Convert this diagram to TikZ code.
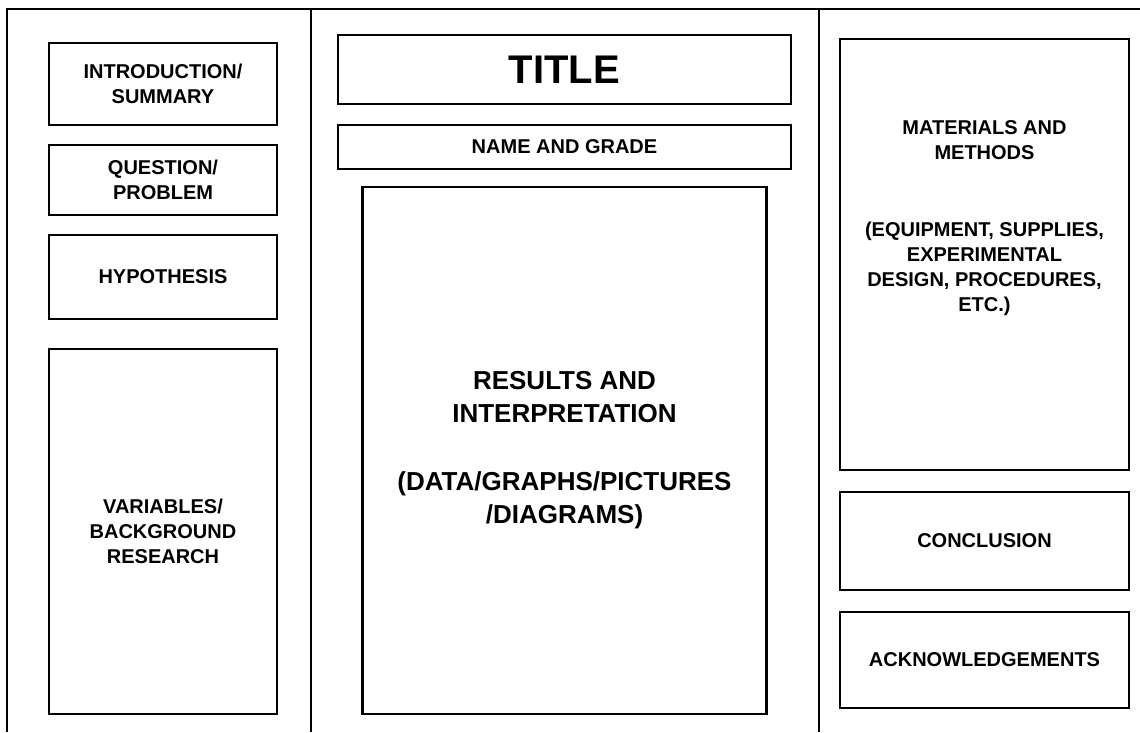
\documentclass[tikz,border=0pt]{standalone}
\usepackage{fontspec}
\setmainfont{Liberation Sans}
\usetikzlibrary{positioning}

\tikzset{
  rule/.style={line width=2.2pt},
  panel/.style={draw, line width=2.2pt, outer sep=0pt, inner sep=0pt, align=center,
    font=\bfseries\fontsize{20}{25}\selectfont},
  note/.style={inner sep=0pt, align=center, font=\bfseries\fontsize{20}{25}\selectfont},
}

\begin{document}
\begin{tikzpicture}[x=1pt,y=-1pt]
  \useasboundingbox (0,0) rectangle (1140,732);
  % board frame and the two folds
  \draw[rule] (1140,9) -- (7,9) -- (7,732);
  \draw[rule] (311,9) -- (311,732);
  \draw[rule] (819,9) -- (819,732);

  % left wing
  \path
  node[panel, minimum width=228, minimum height=82] (intro) at (163,84) {INTRODUCTION/\\SUMMARY}
  node[panel, minimum width=228, minimum height=70, below=20pt of intro] (question) {QUESTION/\\PROBLEM}
  node[panel, minimum width=228, minimum height=84, below=20pt of question] (hypo) {HYPOTHESIS}
  node[panel, minimum width=228, minimum height=365, below=30pt of hypo] (vars) {VARIABLES/\\BACKGROUND\\RESEARCH}
  ;

  % centre panel
  \path
  node[panel, minimum width=453, minimum height=69, font=\bfseries\fontsize{40}{48}\selectfont] (title) at (564.5,69.5) {TITLE}
  node[panel, minimum width=453, minimum height=44, below=21pt of title] (name) {NAME AND GRADE}
  node[panel, minimum width=404, minimum height=527, below=18pt of name, font=\bfseries\fontsize{26}{33}\selectfont] (results)
    {RESULTS AND\\INTERPRETATION\\[35pt](DATA/GRAPHS/PICTURES\\/DIAGRAMS)}
  ;

  % right wing
  \path
  node[panel, minimum width=289, minimum height=431] (methods) at (984.5,254.5) {}
  node[note, below=81pt of methods.north] (methodstext)
    {MATERIALS AND\\METHODS\\[52pt](EQUIPMENT, SUPPLIES,\\EXPERIMENTAL\\DESIGN, PROCEDURES,\\ETC.)}
  node[panel, minimum width=289, minimum height=98, below=22pt of methods] (concl) {CONCLUSION}
  node[panel, minimum width=289, minimum height=96, below=22pt of concl] (ack) {ACKNOWLEDGEMENTS}
  ;
\end{tikzpicture}
\end{document}
